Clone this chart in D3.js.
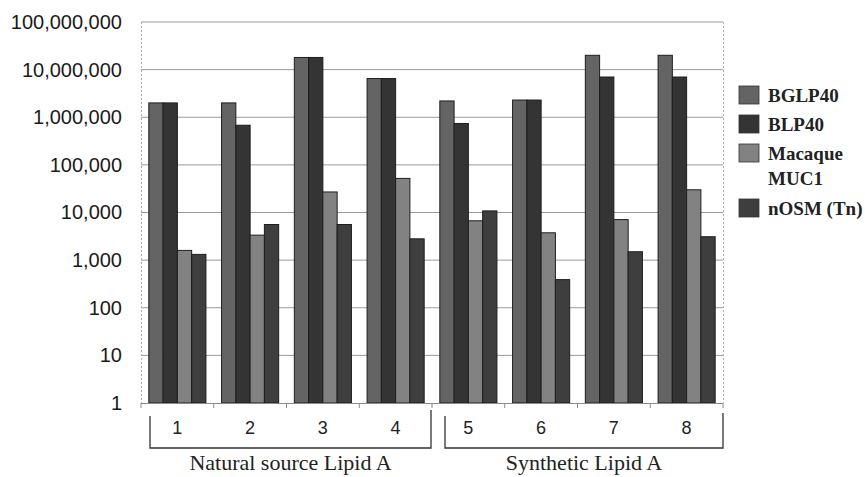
<!DOCTYPE html>
<html>
<head>
<meta charset="utf-8">
<script src="https://cdn.jsdelivr.net/npm/d3@7"></script>
<style>
  html, body { margin: 0; padding: 0; background: #fff; }
  svg { display: block; }
</style>
</head>
<body>
<svg id="chart" width="865" height="477"></svg>
<script>
const categories = ["1", "2", "3", "4", "5", "6", "7", "8"];
const seriesNames = ["BGLP40", "BLP40", "Macaque MUC1", "nOSM (Tn)"];
const legendLines = [["BGLP40"], ["BLP40"], ["Macaque", "MUC1"], ["nOSM (Tn)"]];
const BGLP40 = [2000000, 2000000, 18000000, 6500000, 2200000, 2300000, 20000000, 20000000];
const BLP40 = [2000000, 680000, 18000000, 6500000, 740000, 2300000, 7000000, 7000000];
const macaqueMUC1 = [1600, 3350, 27000, 52000, 6700, 3750, 7100, 30000];
const nOSM = [1320, 5600, 5600, 2800, 10800, 390, 1500, 3100];
const yTicks = [1, 10, 100, 1000, 10000, 100000, 1000000, 10000000, 100000000];
const groups = [
  { label: "Natural source Lipid A", from: 0, to: 3 },
  { label: "Synthetic Lipid A", from: 4, to: 7 }
];
const colors = ["#646464", "#343434", "#828282", "#3e3e3e"];

const seriesValues = [BGLP40, BLP40, macaqueMUC1, nOSM];

const svg = d3.select("#chart");
const m = { left: 141, right: 723, top: 22, bottom: 403 };

const x = d3.scaleBand().domain(categories).range([m.left, m.right]).paddingInner(0.215).paddingOuter(0.1075);
const xs = d3.scaleBand().domain(seriesNames).range([0, x.bandwidth()]);
const y = d3.scaleLog().domain([1, 100000000]).range([m.bottom, m.top]);

// gridlines
svg.append("g").selectAll("line").data(yTicks.slice(1)).join("line")
  .attr("x1", m.left).attr("x2", m.right)
  .attr("y1", d => y(d)).attr("y2", d => y(d))
  .attr("stroke", "#9a9a9a").attr("stroke-width", 1);

// side borders (dotted)
svg.append("line").attr("x1", m.left + 0.5).attr("x2", m.left + 0.5).attr("y1", m.top).attr("y2", m.bottom)
  .attr("stroke", "#b0b0b0").attr("stroke-dasharray", "2,2");
svg.append("line").attr("x1", m.right + 0.5).attr("x2", m.right + 0.5).attr("y1", m.top).attr("y2", m.bottom)
  .attr("stroke", "#b0b0b0").attr("stroke-dasharray", "2,2");

// y axis labels
const yAxis = d3.axisLeft(y).tickValues(yTicks).tickFormat(d3.format(",")).tickSize(0).tickPadding(19);
const ga = svg.append("g").attr("transform", `translate(${m.left},0)`).call(yAxis);
ga.select(".domain").remove();
ga.selectAll("text").attr("font-family", "Liberation Sans, Arial, sans-serif").attr("font-size", 20).attr("fill", "#1a1a1a");

// bars
const gBars = svg.append("g");
seriesValues.forEach((vals, si) => {
  gBars.append("g").selectAll("rect").data(vals).join("rect")
    .attr("x", (d, i) => x(categories[i]) + xs(seriesNames[si]))
    .attr("width", xs.bandwidth())
    .attr("y", d => y(d))
    .attr("height", d => y(1) - y(d))
    .attr("fill", colors[si])
    .attr("stroke", "#1e1e1e").attr("stroke-width", 1);
});

// x axis line and ticks
svg.append("line").attr("x1", m.left).attr("x2", m.right).attr("y1", m.bottom + 0.5).attr("y2", m.bottom + 0.5)
  .attr("stroke", "#8a8a8a");
const step = x.step();
svg.append("g").selectAll("line").data(d3.range(categories.length + 1)).join("line")
  .attr("x1", i => m.left + i * step).attr("x2", i => m.left + i * step)
  .attr("y1", m.bottom).attr("y2", m.bottom + 5).attr("stroke", "#8a8a8a");

// category labels
svg.append("g").selectAll("text").data(categories).join("text")
  .attr("x", d => x(d) + x.bandwidth() / 2)
  .attr("y", 434)
  .attr("text-anchor", "middle")
  .attr("font-family", "Liberation Sans, Arial, sans-serif").attr("font-size", 18).attr("fill", "#222")
  .text(d => d);

// brackets
groups.forEach((g, gi) => {
  const x0 = gi === 0 ? 150 : m.left + g.from * step + 13;
  const x1 = gi === 0 ? m.left + (g.to + 1) * step - 1 : m.right;
  svg.append("path")
    .attr("d", `M${x0},416 V448 H${x1} V${gi === 0 ? 410 : 413}`)
    .attr("fill", "none").attr("stroke", "#333").attr("stroke-width", 1.3);
  svg.append("text").attr("x", (x0 + x1) / 2).attr("y", 470).attr("text-anchor", "middle")
    .attr("font-family", "Liberation Serif, Times New Roman, serif").attr("font-size", 22).attr("fill", "#222")
    .text(g.label);
});

// legend
const legendY = [86, 115, 144, 199];
const leg = svg.append("g");
legendLines.forEach((lines, i) => {
  leg.append("rect").attr("x", 739).attr("y", legendY[i]).attr("width", 20).attr("height", 18)
    .attr("fill", colors[i]).attr("stroke", "#333").attr("stroke-width", 0.8);
  lines.forEach((t, j) => {
    leg.append("text").attr("x", 768).attr("y", legendY[i] + 16 + j * 25)
      .attr("font-family", "Liberation Serif, Times New Roman, serif").attr("font-weight", "bold")
      .attr("font-size", 19).attr("fill", "#222").text(t);
  });
});
</script>
</body>
</html>
